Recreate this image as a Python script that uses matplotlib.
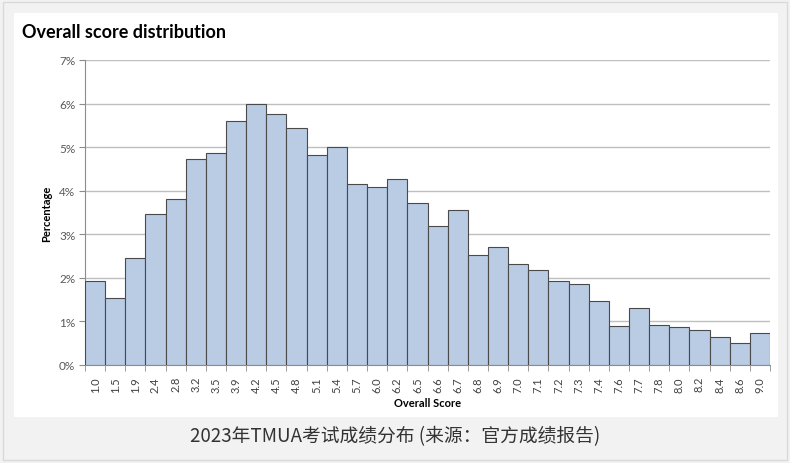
import matplotlib.pyplot as plt
from matplotlib.patches import Rectangle
from matplotlib.ticker import FixedLocator, PercentFormatter

# 数据：各分数段占比 (%)
scores = ["1.0", "1.5", "1.9", "2.4", "2.8", "3.2", "3.5", "3.9", "4.2", "4.5",
          "4.8", "5.1", "5.4", "5.7", "6.0", "6.2", "6.5", "6.6", "6.7", "6.8",
          "6.9", "7.0", "7.1", "7.2", "7.3", "7.4", "7.6", "7.7", "7.8", "8.0",
          "8.2", "8.4", "8.6", "9.0"]
percent = [1.92, 1.53, 2.45, 3.47, 3.82, 4.72, 4.86, 5.61, 6.00, 5.76,
           5.45, 4.83, 5.01, 4.16, 4.08, 4.28, 3.71, 3.18, 3.55, 2.52,
           2.70, 2.31, 2.17, 1.93, 1.85, 1.48, 0.89, 1.30, 0.91, 0.87,
           0.80, 0.65, 0.50, 0.74]
y_ticks = [0, 1, 2, 3, 4, 5, 6, 7]

title = "Overall score distribution"
caption = "2023年TMUA考试成绩分布 (来源：官方成绩报告)"

plt.rcParams["font.family"] = ["Lato", "DejaVu Sans"]

fig = plt.figure(figsize=(7.9, 4.64), dpi=100, facecolor="#f2f2f2")

# 外框和白色图表区
fig.patches.append(Rectangle((3 / 790, 3 / 464), 784 / 790, 458 / 464,
                             transform=fig.transFigure, facecolor="#f2f2f2",
                             edgecolor="#d9d9d9", linewidth=1, zorder=-2))
fig.patches.append(Rectangle((14 / 790, 46 / 464), 764 / 790, 404 / 464,
                             transform=fig.transFigure, facecolor="white",
                             edgecolor="none", zorder=-1))

ax = fig.add_axes([85 / 790, 98 / 464, 685 / 790, 305 / 464])
ax.set_zorder(1)
ax.set_facecolor("white")

x = list(range(len(scores)))
ax.bar(x, percent, width=1.0, color="#b9cce4", edgecolor="#4a4a4a",
       linewidth=0.8, zorder=3)

ax.set_xlim(-0.5, len(scores) - 0.5)
ax.set_ylim(0, 7)
ax.set_xticks(x)
ax.set_xticklabels(scores, rotation=90, fontsize=8, color="#404040")
ax.xaxis.set_minor_locator(FixedLocator([i - 0.5 for i in range(len(scores) + 1)]))
ax.tick_params(axis="x", which="major", length=0, pad=8)
ax.tick_params(axis="x", which="minor", length=4, color="#8c8c8c")

ax.set_yticks(y_ticks)
ax.yaxis.set_major_formatter(PercentFormatter(decimals=0))
ax.tick_params(axis="y", labelsize=8.5, labelcolor="#595959", length=4,
               color="#8c8c8c", pad=3)
ax.grid(axis="y", color="#bfbfbf", linewidth=1, zorder=0)

for side in ["top", "right"]:
    ax.spines[side].set_visible(False)
ax.spines["left"].set_color("#8c8c8c")
ax.spines["bottom"].set_color("#8c8c8c")

ax.set_ylabel("Percentage", fontsize=8, fontweight="bold", labelpad=5)
ax.set_xlabel("Overall Score", fontsize=8, fontweight="bold", labelpad=4)

fig.text(22 / 790, 1 - 32 / 464, title, fontsize=13, fontweight="bold",
         va="center", ha="left", color="black")
fig.text(395 / 790, 1 - 437 / 464, caption, fontsize=13.5, color="#333333",
         va="center", ha="center",
         family=["Noto Sans CJK SC", "DejaVu Sans"])

fig.savefig("out.png", dpi=100, facecolor=fig.get_facecolor())
